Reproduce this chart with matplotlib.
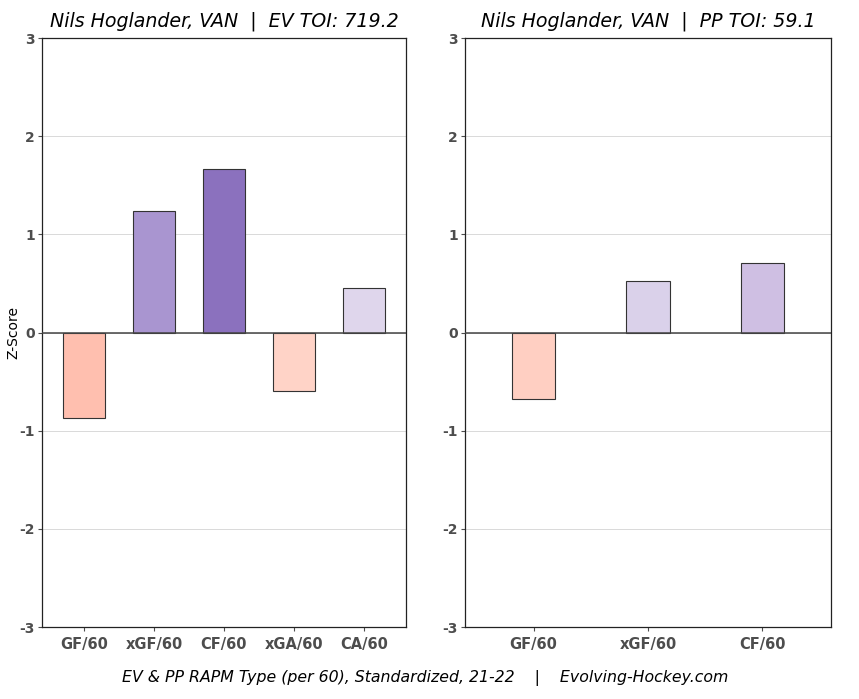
import matplotlib
matplotlib.use('Agg')
import matplotlib.pyplot as plt

plt.rcParams['axes.unicode_minus'] = False

ev_labels = ['GF/60', 'xGF/60', 'CF/60', 'xGA/60', 'CA/60']
ev_values = [-0.87, 1.24, 1.665, -0.60, 0.455]
ev_colors = ['#FFBFAF', '#A995D0', '#8B71BE', '#FFD3C7', '#DFD6EC']

pp_labels = ['GF/60', 'xGF/60', 'CF/60']
pp_values = [-0.68, 0.525, 0.71]
pp_colors = ['#FFCFC2', '#DAD1EA', '#CFBFE3']

player = 'Nils Hoglander, VAN'
ev_toi = 719.2
pp_toi = 59.1

fig = plt.figure(figsize=(8.59, 6.99), dpi=100)
ax1 = fig.add_axes([0.0489, 0.103, 0.4237, 0.8426])
ax2 = fig.add_axes([0.5413, 0.103, 0.4261, 0.8426])

def draw(ax, labels, values, colors, width, title):
    x = range(len(labels))
    ax.bar(x, values, width=width, color=colors, edgecolor='#333333', linewidth=0.8, zorder=3)
    ax.axhline(0, color='#444444', linewidth=1.1, zorder=4)
    ax.set_ylim(-3, 3)
    ax.set_yticks([-3, -2, -1, 0, 1, 2, 3])
    ax.set_xlim(-0.6, len(labels) - 0.4)
    ax.set_xticks(list(x))
    ax.set_xticklabels(labels)
    ax.grid(axis='y', color='#D9D9D9', linewidth=0.7, zorder=0)
    ax.tick_params(axis='both', labelsize=10, colors='#4D4D4D', length=3, pad=2)
    ax.tick_params(axis='x', pad=4, labelsize=10.5)
    for t in ax.get_xticklabels() + ax.get_yticklabels():
        t.set_fontweight('bold')
    for s in ax.spines.values():
        s.set_color('#222222')
        s.set_linewidth(0.9)
    ax.set_title(title, fontsize=13.7, style='italic', pad=8)

draw(ax1, ev_labels, ev_values, ev_colors, 0.6,
     f'{player}  |  EV TOI: {ev_toi}')
draw(ax2, pp_labels, pp_values, pp_colors, 0.38,
     f'{player}  |  PP TOI: {pp_toi}')
ax1.set_ylabel('Z-Score', fontsize=10)
ax1.yaxis.set_label_coords(-0.06, 0.5)

fig.text(0.495, 0.03, 'EV & PP RAPM Type (per 60), Standardized, 21-22    |    Evolving-Hockey.com',
         ha='center', va='center', fontsize=11.3, style='italic')

fig.savefig('out.png', dpi=100)
